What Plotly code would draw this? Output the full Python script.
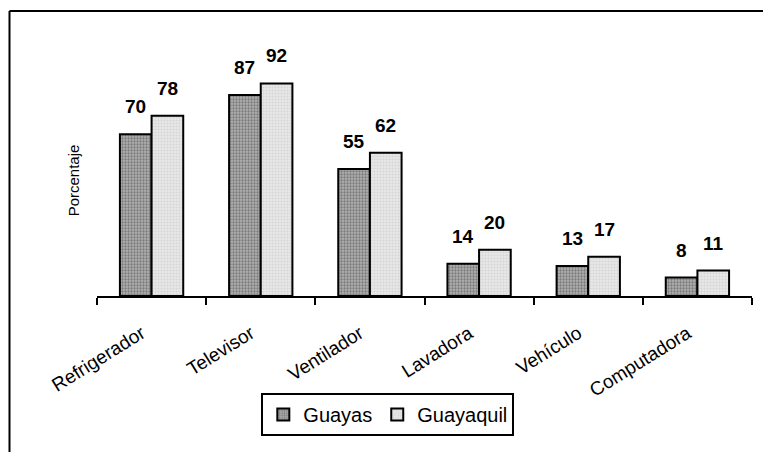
import plotly.graph_objects as go

categories = ["Refrigerador", "Televisor", "Ventilador", "Lavadora", "Vehículo", "Computadora"]
guayas = [70, 87, 55, 14, 13, 8]
guayaquil = [78, 92, 62, 20, 17, 11]
series_names = ["Guayas", "Guayaquil"]

# page has an 8px body margin, so the figure starts at (8, 8)
OFF = 8
W, H = 771 - OFF, 452 - OFF
L, R, T, B = 97 - OFF, 19, 65 - OFF, 156
pw, ph = W - L - R, H - T - B

label_font = dict(family="Liberation Sans, Arial", size=19, color="black")

fig = go.Figure()
fig.add_trace(go.Bar(
    x=categories, y=guayas, name=series_names[0],
    marker=dict(color="#9a9a9a", line=dict(color="black", width=2),
                pattern=dict(shape=".", fgcolor="#444444", bgcolor="#b0b0b0", size=3, solidity=0.45)),
))
fig.add_trace(go.Bar(
    x=categories, y=guayaquil, name=series_names[1],
    marker=dict(color="#e0e0e0", line=dict(color="black", width=2),
                pattern=dict(shape=".", fgcolor="#c4c4c4", bgcolor="#e8e8e8", size=3, solidity=0.4)),
))

bargap = 0.42
group_px = pw / len(categories) * (1 - bargap)
off = group_px / 4
annotations = []
for vals, sh in ((guayas, -off), (guayaquil, off)):
    for c, v in zip(categories, vals):
        annotations.append(dict(x=c, y=v, xref="x", yref="y", text=f"<b>{v}</b>", showarrow=False,
                                xshift=sh, yshift=15, yanchor="bottom", font=label_font))

fig.update_layout(
    width=W, height=H,
    margin=dict(l=L, r=R, t=T, b=B),
    paper_bgcolor="white", plot_bgcolor="white",
    barmode="group", bargap=bargap, bargroupgap=0,
    showlegend=True,
    legend=dict(orientation="h", x=0.444, xanchor="center", y=-0.42, yanchor="top",
                bordercolor="black", borderwidth=2, bgcolor="white",
                font=dict(family="Liberation Sans, Arial", size=20, color="black"),
                itemwidth=30, tracegroupgap=0),
    annotations=annotations,
    shapes=[
        dict(type="line", xref="paper", yref="paper", x0=(9.5 - OFF - L) / pw, x1=1.1,
             y0=(H - B - (11 - OFF)) / ph, y1=(H - B - (11 - OFF)) / ph, line=dict(color="black", width=2)),
        dict(type="line", xref="paper", yref="paper", x0=(9.5 - OFF - L) / pw, x1=(9.5 - OFF - L) / pw,
             y0=(H - B - (11 - OFF)) / ph, y1=-1.0, line=dict(color="black", width=2)),
    ],
    font=dict(family="Liberation Sans, Arial", color="black"),
)
fig.update_xaxes(
    showline=True, linecolor="black", linewidth=2,
    ticks="outside", ticklen=7, tickwidth=2, tickcolor="black", tickson="boundaries",
    tickangle=-32, tickfont=dict(family="Liberation Sans, Arial", size=19, color="black"),
    ticklabelstandoff=17, ticklabelshift=-10,
    showgrid=False,
)
fig.update_yaxes(
    range=[0, 100], showticklabels=False, showgrid=False, zeroline=False, showline=False,
    title=dict(text="Porcentaje", font=dict(family="Liberation Sans, Arial", size=15, color="black"), standoff=12),
)
fig.write_html("out.html")
